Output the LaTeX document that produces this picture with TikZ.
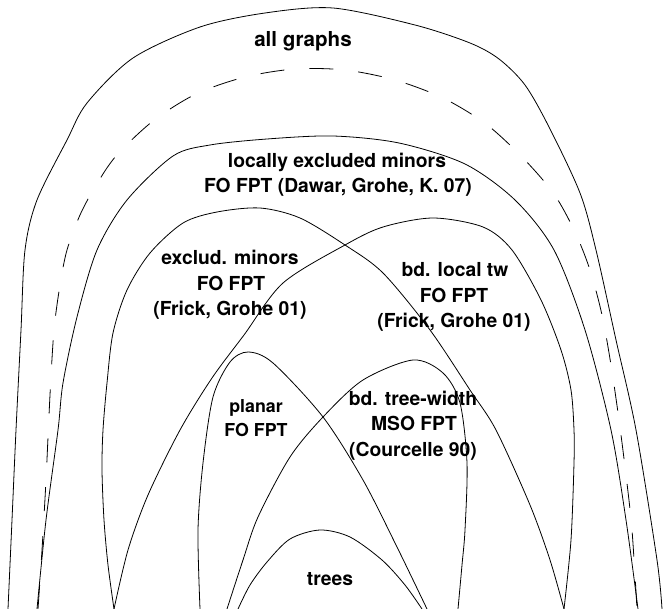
\documentclass[tikz,border=0pt]{standalone}
\usepackage{fontspec}
\setmainfont{TeX Gyre Heros}
\tikzset{
  region/.style={draw=black, line width=0.8pt, line join=round},
  dashregion/.style={region, dash pattern=on 24pt off 25pt},
  lbl/.style={font=\fontsize{19.3}{24}\selectfont\bfseries, anchor=base, inner sep=0pt},
  smalllbl/.style={lbl, font=\fontsize{17.8}{22}\selectfont\bfseries},
  biglbl/.style={lbl, font=\fontsize{20.6}{25}\selectfont\bfseries}
}
\begin{document}
\begin{tikzpicture}[x=1pt, y=-1pt]
\useasboundingbox (0,0) rectangle (664,609);

% all graphs
\draw[region] plot[smooth] coordinates {
  (8,609) (12,520) (16,430) (21,330) (25,250) (37,200) (67,140) (87,103)
  (133,58) (200,27) (265,13) (333,8) (415,25) (470,43) (499,59) (525,85)
  (549,127) (580,193) (596,250) (616,340) (636,430) (657,560) (662,609)};

% dashed class
\draw[dashregion] plot[smooth] coordinates {
  (38,609) (42,550) (46,480) (50,395) (54,330) (60,285) (67,250) (80,215)
  (95,187) (116,156) (153,121) (196,94) (245,77) (295,69) (345,70) (395,80)
  (443,98) (486,124) (523,158) (554,194) (575,232) (590,270) (602,315)
  (611,365) (619,420) (626,475) (632,530) (637,609)};

% locally excluded minors
\draw[region] plot[smooth] coordinates {
  (37,609) (46,520) (58,430) (63,383) (77,317) (97,250) (127,200) (173,156)
  (210,145) (267,139) (333,136) (399,143) (465,164) (515,200) (554,250)
  (585,330) (611,430) (626,520) (638,609)};

% excluded minors
\draw[region] plot[smooth] coordinates {
  (114,609) (108,565) (104,520) (102,470) (103,430) (107,383) (113,333)
  (127,290) (150,253) (183,223) (217,212) (260,208) (300,218) (345,245)
  (383,273) (430,330) (470,390) (496,430) (530,505) (550,560) (564,609)};

% bounded local tree-width
\draw[region] plot[smooth] coordinates {
  (114,609) (128,550) (148,495) (180,430) (212,378) (244,335) (283,283)
  (345,245) (383,227) (433,218) (483,227) (512,250) (541,300) (561,350)
  (571,390) (574,430) (574,463) (571,540) (564,609)};

% planar
\draw[region] plot[smooth] coordinates {
  (200,609) (198,530) (203,463) (213,397) (230,362) (248,352) (273,363)
  (323,417) (363,480) (397,547) (427,609)};

% bounded tree-width
\draw[region] plot[smooth] coordinates {
  (227,609) (243,560) (258,517) (290,457) (323,417) (363,380) (413,360)
  (443,373) (460,403) (467,463) (465,530) (462,565) (458,609)};

% trees
\draw[region] plot[smooth] coordinates {
  (238,609) (250,585) (267,562) (290,539) (320,530) (350,537) (382,560)
  (405,585) (422,609)};

% labels
\node[biglbl] (allg) at (303,47) {all graphs};
\node[lbl] (lem1) at (337,168) {locally excluded minors};
\node[lbl] (lem2) at (338,193) {FO FPT (Dawar, Grohe, K. 07)};
\node[lbl] (exm1) at (230,265) {exclud. minors};
\node[lbl] (exm2) at (231,291) {FO FPT};
\node[lbl] (exm3) at (230,316) {(Frick, Grohe 01)};
\node[lbl] (blt1) at (455,277) {bd. local tw};
\node[lbl] (blt2) at (454,303) {FO FPT};
\node[lbl] (blt3) at (454,328) {(Frick, Grohe 01)};
\node[smalllbl] (pl1) at (256,413) {planar};
\node[smalllbl] (pl2) at (256,436) {FO FPT};
\node[lbl] (btw1) at (413,406) {bd. tree-width};
\node[lbl] (btw2) at (414,431) {MSO FPT};
\node[lbl] (btw3) at (413,456) {(Courcelle 90)};
\node[lbl] (trees) at (330,585) {trees};
\end{tikzpicture}
\end{document}
